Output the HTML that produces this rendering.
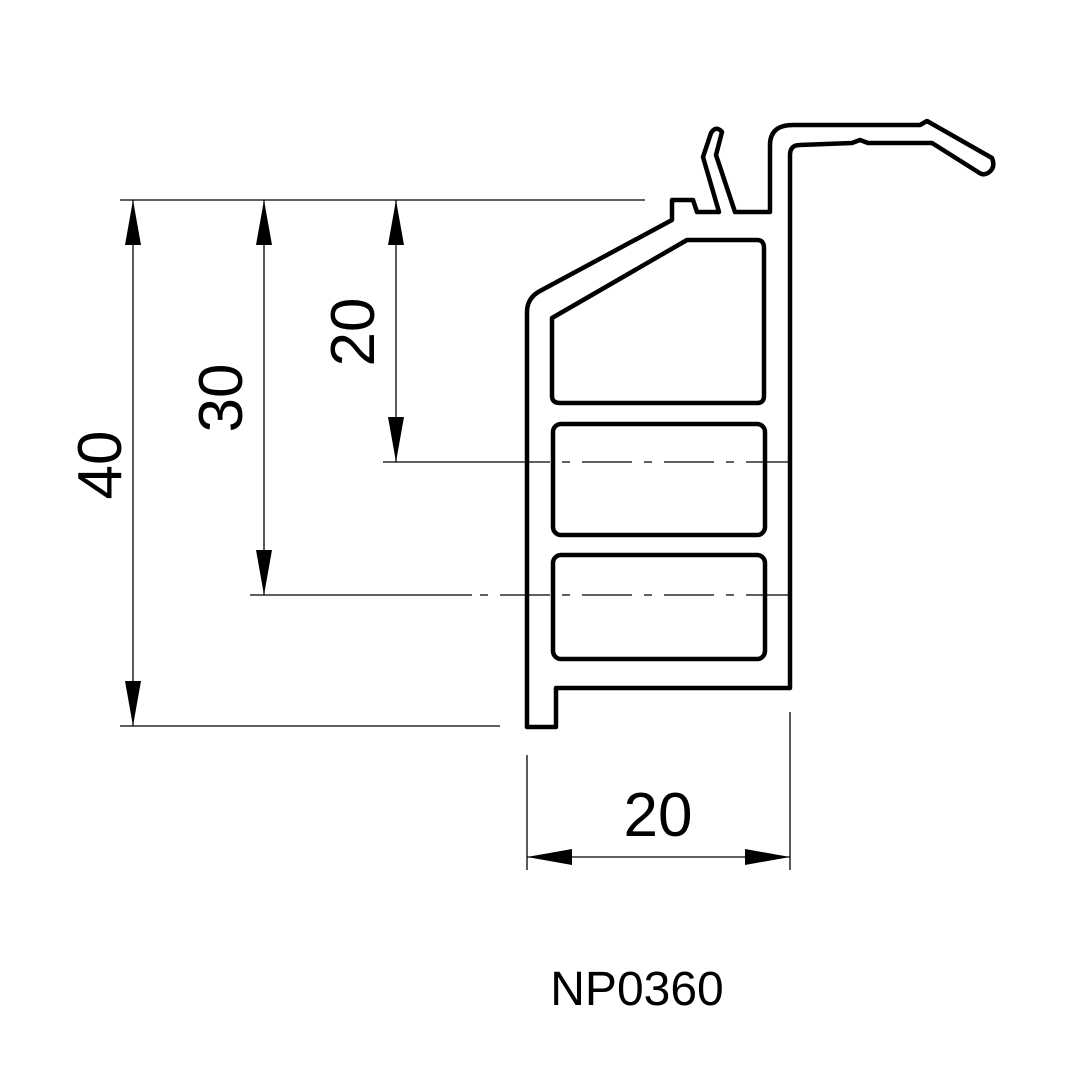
<!DOCTYPE html>
<html><head><meta charset="utf-8"><style>html,body{margin:0;padding:0;background:#fff}</style></head>
<body>
<svg width="1080" height="1080" viewBox="0 0 1080 1080" xmlns="http://www.w3.org/2000/svg" font-family="Liberation Sans, sans-serif">
<rect width="1080" height="1080" fill="#fff"/>
<g stroke="#000" stroke-width="1.3" fill="none">
<line x1="120" y1="200" x2="645" y2="200"/>
<line x1="120" y1="726" x2="500" y2="726"/>
<line x1="133" y1="200" x2="133" y2="726"/>
<line x1="264" y1="200" x2="264" y2="595"/>
<line x1="396" y1="200" x2="396" y2="462"/>
<line x1="250" y1="595" x2="472" y2="595"/>
<line x1="383" y1="462" x2="500" y2="462"/>
<line x1="500" y1="462" x2="790" y2="462" stroke-dasharray="50,12,8,12"/>
<line x1="472" y1="595" x2="790" y2="595" stroke-dasharray="50,12,8,12" stroke-dashoffset="-28"/>
<line x1="527" y1="755" x2="527" y2="870"/>
<line x1="790" y1="712" x2="790" y2="870"/>
<line x1="527" y1="857" x2="790" y2="857"/>
</g>
<g fill="#000">
<polygon points="133,200 125,245 141,245"/><polygon points="133,726 125,681 141,681"/>
<polygon points="264,200 256,245 272,245"/><polygon points="264,595 256,550 272,550"/>
<polygon points="396,200 388,245 404,245"/><polygon points="396,462 388,417 404,417"/>
<polygon points="527,857 572,849 572,865"/><polygon points="790,857 745,849 745,865"/>
</g>
<g stroke="#000" stroke-width="4.5" fill="none" stroke-linejoin="round">
<path d="M527,727 L527,312 Q527,298 540,291 L672,220 L672,200 L693,200 L697,212 L719,212 L703,157 L711,133 Q716,125 722,132 L716,155 L735,212 L770,212 L770,145 Q770,125 793,125 L920,125 L927,121 L992,158 Q996,168 988,173 Q983,176 978,172 L932,143 L868,143 L860,140 L852,143 L800,145 Q790,145 790,155 L790,688 L775,688 L556,688 L556,727 Z"/>
<path d="M552,318 L687,240 L757,240 Q764,240 764,248 L764,396 Q764,403 757,403 L560,403 Q552,403 552,396 Z"/>
<rect x="553" y="424" width="212" height="111" rx="8"/>
<rect x="553" y="555" width="212" height="104" rx="8"/>
</g>
<g font-size="62" fill="#000" text-anchor="middle">
<text transform="translate(121,465) rotate(-90)">40</text>
<text transform="translate(242,398) rotate(-90)">30</text>
<text transform="translate(374,332) rotate(-90)">20</text>
<text x="658" y="836">20</text>
</g>
<text x="637" y="1005" font-size="48" text-anchor="middle" fill="#000">NP0360</text>
</svg>
</body></html>
